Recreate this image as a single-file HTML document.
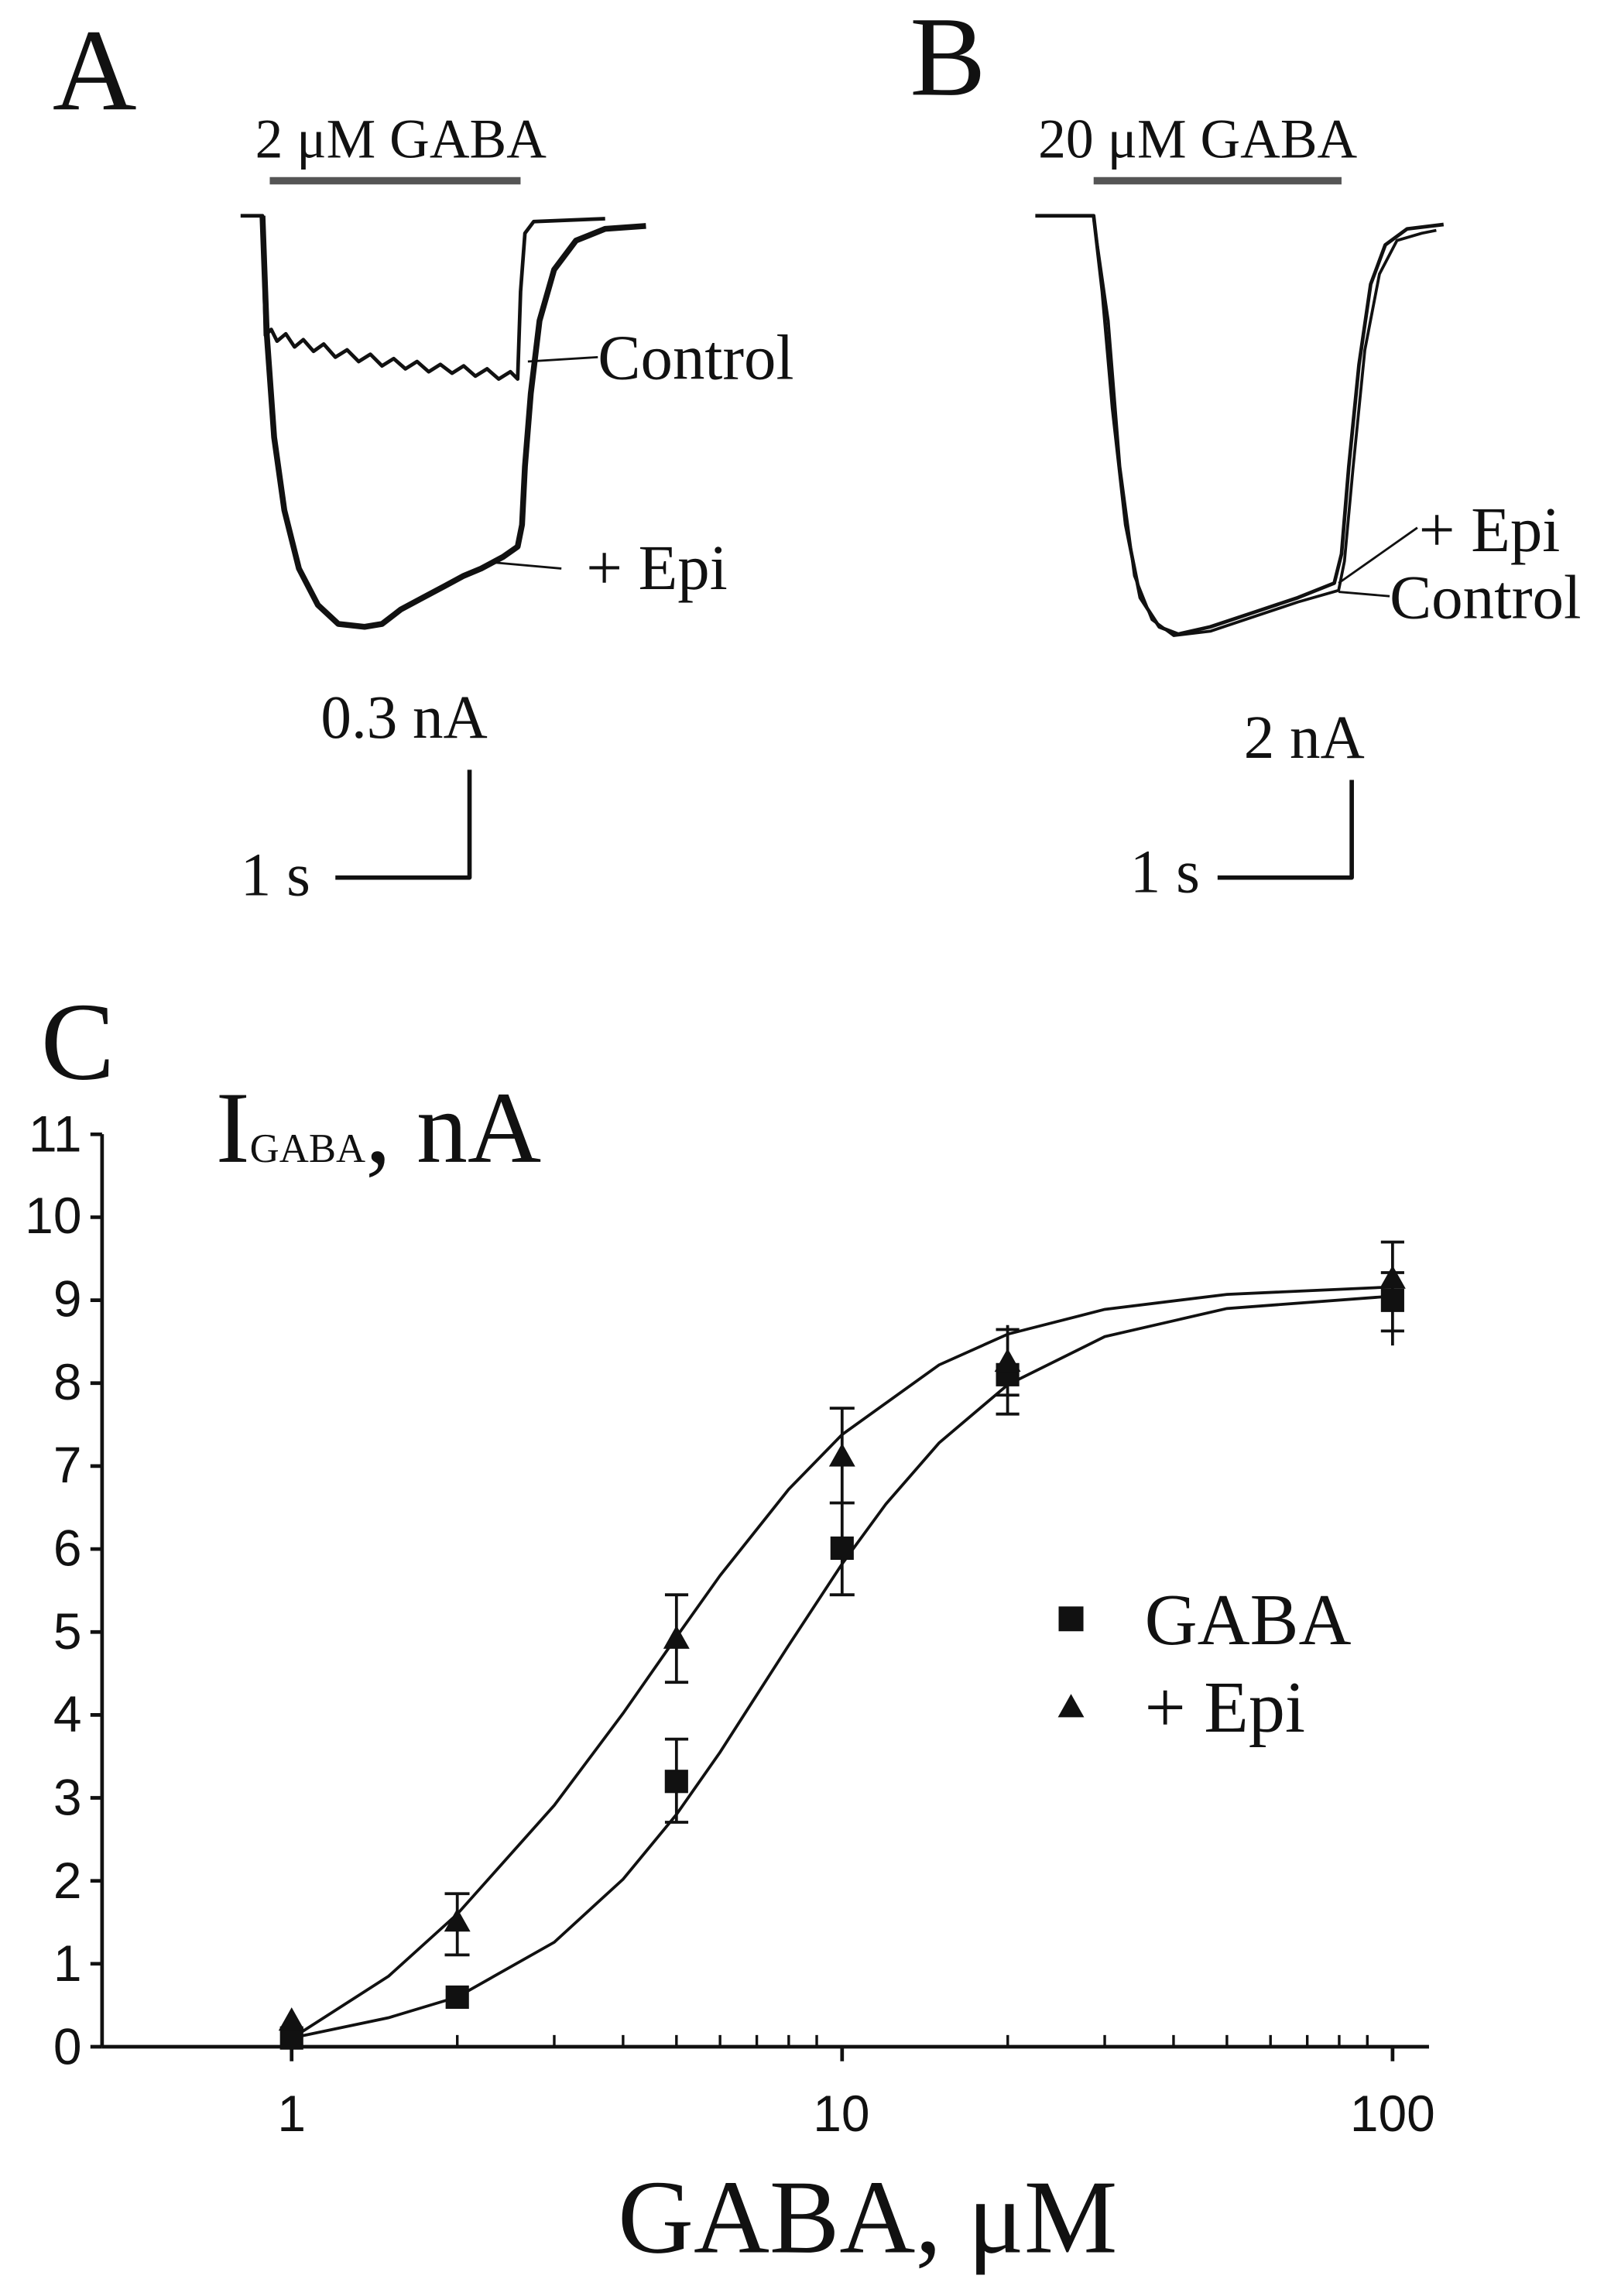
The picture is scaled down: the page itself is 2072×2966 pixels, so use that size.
<!DOCTYPE html>
<html><head><meta charset="utf-8"><style>html,body{margin:0;padding:0;background:#fff}svg{display:block}</style></head>
<body>
<svg width="2072" height="2966" viewBox="0 0 1100 1575" preserveAspectRatio="none" xmlns="http://www.w3.org/2000/svg">
<g font-family="Liberation Serif, serif" fill="#111">
<text x="36" y="75" font-size="80">A</text>
<text x="624" y="65" font-size="78">B</text>
<text x="28" y="740" font-size="76">C</text>
<text x="175" y="108" font-size="38">2 μM GABA</text>
<text x="712" y="108" font-size="38">20 μM GABA</text>
<text x="410" y="260" font-size="44">Control</text>
<text x="402" y="404" font-size="44">+ Epi</text>
<text x="973" y="378" font-size="44">+ Epi</text>
<text x="953" y="424" font-size="43">Control</text>
<text x="220" y="506" font-size="42">0.3 nA</text>
<text x="165" y="614" font-size="42">1 s</text>
<text x="853" y="520" font-size="42">2 nA</text>
<text x="775" y="612" font-size="42">1 s</text>
<text x="148" y="797" font-size="70">I<tspan font-size="28">GABA</tspan>, nA</text>
<text x="595" y="1545" font-size="72" text-anchor="middle">GABA, μM</text>
<text x="785" y="1128" font-size="50">GABA</text>
<text x="785" y="1188" font-size="50">+ Epi</text>
</g>
<g stroke="#555" stroke-width="5"><line x1="185" y1="124" x2="357" y2="124"/><line x1="750" y1="124" x2="920" y2="124"/></g>
<g fill="none" stroke="#111" stroke-linejoin="round">
<path stroke-width="2.5" d="M165,148 L180,148 L182,230 L186,226 L190,234 L196,229 L202,238 L208,233 L215,241 L222,236 L230,245 L238,240 L246,248 L254,243 L262,251 L270,246 L278,253 L286,248 L294,255 L302,250 L310,256 L318,251 L326,258 L334,253 L342,260 L350,255 L355,260 L357,200 L360,160 L366,152 L415,150"/>
<path stroke-width="4" d="M180,148 L183,230 L188,300 L195,350 L205,390 L218,415 L232,428 L250,430 L262,428 L275,418 L290,410 L305,402 L318,395 L330,390 L345,382 L355,375 L358,360 L360,320 L364,270 L370,220 L380,185 L395,165 L415,157 L443,155"/>
<path stroke-width="1.5" d="M362,248 L410,245 M340,386 L385,390"/>
<path stroke-width="2.5" d="M710,148 L750,148 L756,200 L763,280 L772,360 L782,410 L795,430 L808,435 L830,430 L860,420 L890,410 L915,400 L920,380 L925,320 L932,250 L940,195 L950,168 L965,157 L990,154"/>
<path stroke-width="2" d="M750,150 L760,220 L768,320 L778,395 L790,425 L805,436 L830,433 L860,423 L890,413 L918,405 L922,385 L928,320 L936,240 L946,188 L958,165 L975,160 L985,158"/>
<path stroke-width="1.5" d="M918,400 L972,362 M918,406 L953,409"/>
<path stroke-width="3" d="M322,528 L322,602 L230,602 M927,535 L927,602 L835,602"/>
</g>
<g stroke="#111" stroke-width="2.5" fill="none">
<line x1="70" y1="778" x2="70" y2="1404"/>
<line x1="70" y1="1404" x2="980" y2="1404"/>
<path d="M62,1404h8M62,1347.1h8M62,1290.2h8M62,1233.3h8M62,1176.4h8M62,1119.5h8M62,1062.6h8M62,1005.7h8M62,948.8h8M62,891.9h8M62,835h8M62,778.1h8"/>
<path d="M200,1404v10M577.5,1404v10M955,1404v10"/>
<path stroke-width="1.8" d="M313.6,1404v-8M380.1,1404v-8M427.3,1404v-8M463.9,1404v-8M493.8,1404v-8M519,1404v-8M540.9,1404v-8M560.1,1404v-8M691.1,1404v-8M757.6,1404v-8M804.8,1404v-8M841.4,1404v-8M871.3,1404v-8M896.5,1404v-8M918.4,1404v-8M937.7,1404v-8"/>
</g>
<g font-family="Liberation Sans, sans-serif" font-size="35" fill="#111" text-anchor="end">
<text x="56" y="1416">0</text><text x="56" y="1359">1</text><text x="56" y="1302">2</text><text x="56" y="1245">3</text><text x="56" y="1188">4</text><text x="56" y="1131">5</text><text x="56" y="1074">6</text><text x="56" y="1017">7</text><text x="56" y="960">8</text><text x="56" y="903">9</text><text x="56" y="846">10</text><text x="56" y="790">11</text>
</g>
<g font-family="Liberation Sans, sans-serif" font-size="35" fill="#111" text-anchor="middle">
<text x="200" y="1462">1</text><text x="577" y="1462">10</text><text x="955" y="1462">100</text>
</g>
<g fill="none" stroke="#111" stroke-width="2">
<path d="M200,1398 L266.5,1384.1 L313.6,1369.9 L380.1,1332.3 L427.3,1289.1 L463.9,1244.7 L493.8,1202 L519,1162.7 L540.9,1128.6 L577.5,1072.8 L607.4,1031.9 L644,989.8 L691.1,949.9 L757.6,916.9 L841.4,897.6 L955,889.1"/>
<path d="M200,1398.3 L266.5,1355.6 L313.6,1313 L380.1,1238.4 L427.3,1175.3 L463.9,1122.9 L493.8,1080.8 L540.9,1021.6 L577.5,984.1 L644,936.3 L691.1,915.2 L757.6,898.2 L841.4,887.9 L955,882.8"/>
<path d="M463.9,1250V1193M456,1250h16M456,1193h16 M577.5,1094V1031M569,1094h17M569,1031h17 M691,970V912M683,970h16M683,912h16 M955,913V873M947,913h16M947,873h16 M313.6,1341V1299M305,1341h17M305,1299h17 M463.9,1154V1094M456,1154h16M456,1094h16 M577.5,1031V966M569,966h17 M691,957V909M683,957h16 M955,923V852M947,852h16"/>
</g>
<g fill="#111">
<rect x="192" y="1390" width="16" height="16"/><rect x="305.6" y="1362" width="16" height="16"/><rect x="455.9" y="1214" width="16" height="16"/><rect x="569.5" y="1054" width="16" height="16"/><rect x="683" y="935" width="16" height="16"/><rect x="947" y="884" width="16" height="16"/>
<path d="M200,1377l9,16h-18z M313.6,1309l9,16h-18z M463.9,1115l9,16h-18z M577.5,990l9,16h-18z M691,925l9,16h-18z M955,868l9,16h-18z"/>
<rect x="726" y="1102" width="17" height="17"/>
<path d="M734.5,1162l9,16h-18z"/>
</g>
</svg>
</body></html>
